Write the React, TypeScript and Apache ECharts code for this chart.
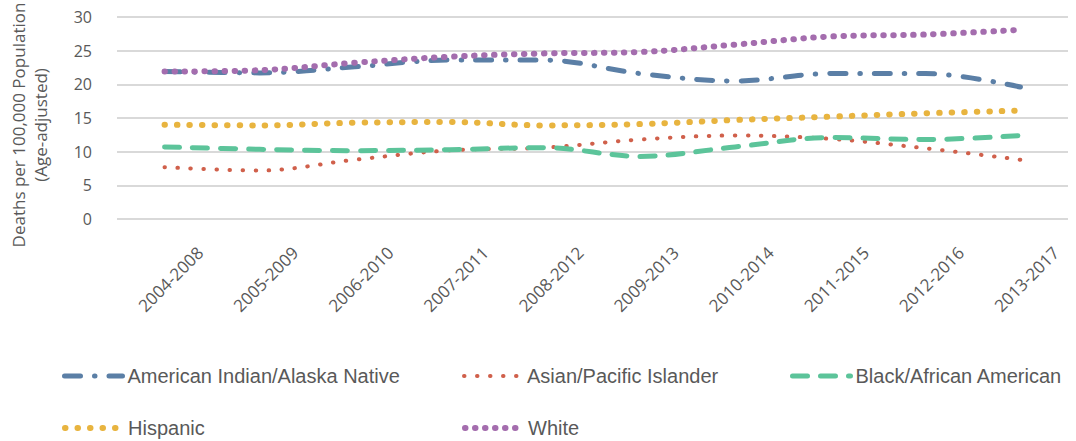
import React, { useEffect, useRef } from "react";
import * as echarts from "echarts";

const categories = [
  "2004-2008", "2005-2009", "2006-2010", "2007-2011", "2008-2012",
  "2009-2013", "2010-2014", "2011-2015", "2012-2016", "2013-2017",
];
const aian = [21.9, 21.7, 22.6, 23.6, 23.6, 21.6, 20.5, 21.6, 21.6, 19.6];
const asian = [7.7, 7.2, 8.8, 10.2, 10.6, 11.8, 12.4, 11.9, 10.5, 8.8];
const black = [10.7, 10.35, 10.15, 10.3, 10.6, 9.3, 10.7, 12.1, 11.8, 12.4];
const hispanic = [14.0, 13.9, 14.3, 14.4, 13.9, 14.1, 14.7, 15.2, 15.7, 16.1];
const white = [21.9, 22.1, 23.2, 24.1, 24.6, 24.8, 25.9, 27.1, 27.4, 28.1];
const yTicks = { min: 0, max: 30, interval: 5 };

const AXIS_FONT = "Open Sans";
const LEGEND_FONT = "Liberation Sans";
const GREY = "#595959";

const styles = [
  { name: "American Indian/Alaska Native", data: aian, color: "#5b7fa6", width: 5, dash: [16, 14, 0.5, 14] },
  { name: "Asian/Pacific Islander", data: asian, color: "#d0604b", width: 4, dash: [0.5, 12.5] },
  { name: "Black/African American", data: black, color: "#5cc49a", width: 5, dash: [15, 13] },
  { name: "Hispanic", data: hispanic, color: "#e8b43f", width: 6, dash: [0.5, 12] },
  { name: "White", data: white, color: "#a46dae", width: 6, dash: [0.5, 9.5] },
];
const legendPos = [
  { left: 57, top: 361 },
  { left: 457, top: 361 },
  { left: 785, top: 361 },
  { left: 57, top: 413 },
  { left: 457, top: 413 },
];

export default function App() {
  const ref = useRef<HTMLDivElement>(null);
  useEffect(() => {
    if (!ref.current) return;
    const chart = echarts.init(ref.current, undefined, { renderer: "svg" });
    chart.setOption({
      animation: false,
      textStyle: { fontFamily: AXIS_FONT },
      grid: { left: 117, right: 8, top: 17, bottom: 222, containLabel: false, outerBoundsMode: "none" },
      xAxis: {
        type: "category",
        data: categories,
        boundaryGap: true,
        axisLine: { show: false },
        axisTick: { show: false },
        axisLabel: {
          rotate: 45,
          align: "center",
          verticalAlign: "top",
          margin: 54,
          fontFamily: AXIS_FONT,
          fontSize: 17,
          color: GREY,
          interval: 0,
        },
      },
      yAxis: {
        type: "value",
        min: yTicks.min,
        max: yTicks.max,
        interval: yTicks.interval,
        name: "Deaths per 100,000 Population\n(Age-adjusted)",
        nameLocation: "middle",
        nameGap: 66,
        nameRotate: 90,
        nameTextStyle: { fontFamily: AXIS_FONT, fontSize: 17, color: GREY, lineHeight: 22, padding: [0, 14, 0, 0] },
        axisLine: { show: false },
        axisTick: { show: false },
        axisLabel: { fontFamily: AXIS_FONT, fontSize: 16, color: GREY, margin: 25 },
        splitLine: { lineStyle: { color: "#d9d9d9", width: 2 } },
      },
      legend: styles.map((s, i) => ({
        ...legendPos[i],
        data: [s.name],
        itemWidth: 58,
        itemHeight: 14,
        itemStyle: { opacity: 0 },
        lineStyle: { color: s.color, width: s.width, type: s.dash, cap: "round" },
        textStyle: { fontFamily: LEGEND_FONT, fontSize: 20, color: GREY },
      })),
      series: styles.map((s) => ({
        name: s.name,
        type: "line",
        data: s.data,
        smooth: 0.35,
        symbol: "none",
        lineStyle: { color: s.color, width: s.width, type: s.dash, cap: "round", join: "round" },
        itemStyle: { color: s.color },
      })),
    });
    return () => chart.dispose();
  }, []);
  return <div ref={ref} style={{ width: 1076, height: 441, position: "absolute", left: 0, top: 0 }} />;
}
